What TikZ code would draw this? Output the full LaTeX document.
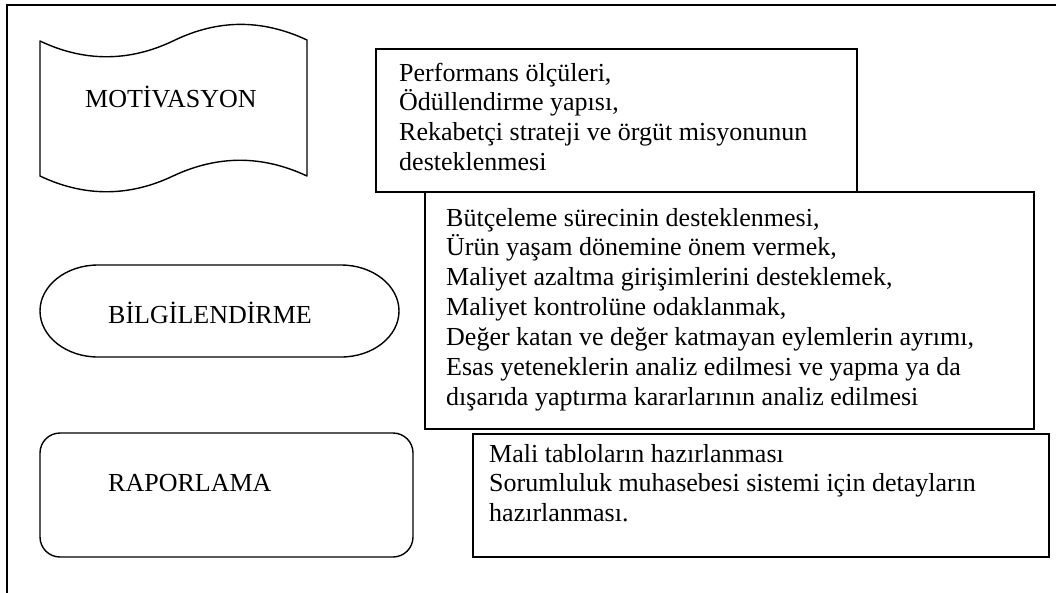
\documentclass[tikz,border=0pt]{standalone}
\usepackage{fontspec}
\setmainfont{Liberation Serif}
\begin{document}
\begin{tikzpicture}[x=1pt,y=-1pt,
  frameline/.style={line width=2.3pt, line join=miter},
  shapeline/.style={line width=1.4pt, line join=round},
  boxline/.style={line width=1.9pt, line join=miter},
  title/.style={anchor=base west, inner sep=0pt, font=\fontsize{26}{29.9}\selectfont},
  textblock/.style={anchor=base west, inner sep=0pt, font=\fontsize{26}{29.9}\selectfont}]
\clip (0,0) rectangle (1056,592);
\fill[white] (0,0) rectangle (1056,592);
% outer frame (only top and left edges fall inside the page)
\draw[frameline] (1070,5) -- (7,5) -- (7,600);

% punched-tape shape
\draw[shapeline] (40,41) .. controls (84,62) and (129,62) .. (173,41)
  .. controls (218,19) and (262,19) .. (307,40) -- (307,176)
  .. controls (262,155) and (218,155) .. (173,176)
  .. controls (129,197) and (84,197) .. (40,176) -- cycle;
\node[title] (motiv) at (85,107) {MOTİVASYON};

% terminator shape
\draw[shapeline] (98,265) -- (341,265)
  .. controls (373,265) and (399,285.6) .. (399,311)
  .. controls (399,336.4) and (373,357) .. (341,357) -- (98,357)
  .. controls (66,357) and (40,336.4) .. (40,311)
  .. controls (40,285.6) and (66,265) .. cycle;
\node[title] (bilgi) at (108,323) {BİLGİLENDİRME};

% rounded rectangle
\draw[shapeline, rounded corners=20pt] (40,433) rectangle (413,557);
\node[title] (rapor) at (108,491) {RAPORLAMA};

% text boxes
\draw[boxline] (376,49) rectangle (857,192);
\node[textblock] (t1) at (399,81) {\begin{minipage}[t]{450pt}
Performans ölçüleri,\\
Ödüllendirme yapısı,\\
Rekabetçi strateji ve örgüt misyonunun\\
desteklenmesi\end{minipage}};

\draw[boxline] (425,192) rectangle (1034,429);
\node[textblock] (t2) at (446,226) {\begin{minipage}[t]{580pt}
Bütçeleme sürecinin desteklenmesi,\\
Ürün yaşam dönemine önem vermek,\\
Maliyet azaltma girişimlerini desteklemek,\\
Maliyet kontrolüne odaklanmak,\\
Değer katan ve değer katmayan eylemlerin ayrımı,\\
Esas yeteneklerin analiz edilmesi ve yapma ya da\\
dışarıda yaptırma kararlarının analiz edilmesi\end{minipage}};

\draw[boxline] (473,434) rectangle (1049,557);
\node[textblock] (t3) at (489,462) {\begin{minipage}[t]{550pt}
Mali tabloların hazırlanması\\
Sorumluluk muhasebesi sistemi için detayların\\
hazırlanması.\end{minipage}};
\end{tikzpicture}
\end{document}
